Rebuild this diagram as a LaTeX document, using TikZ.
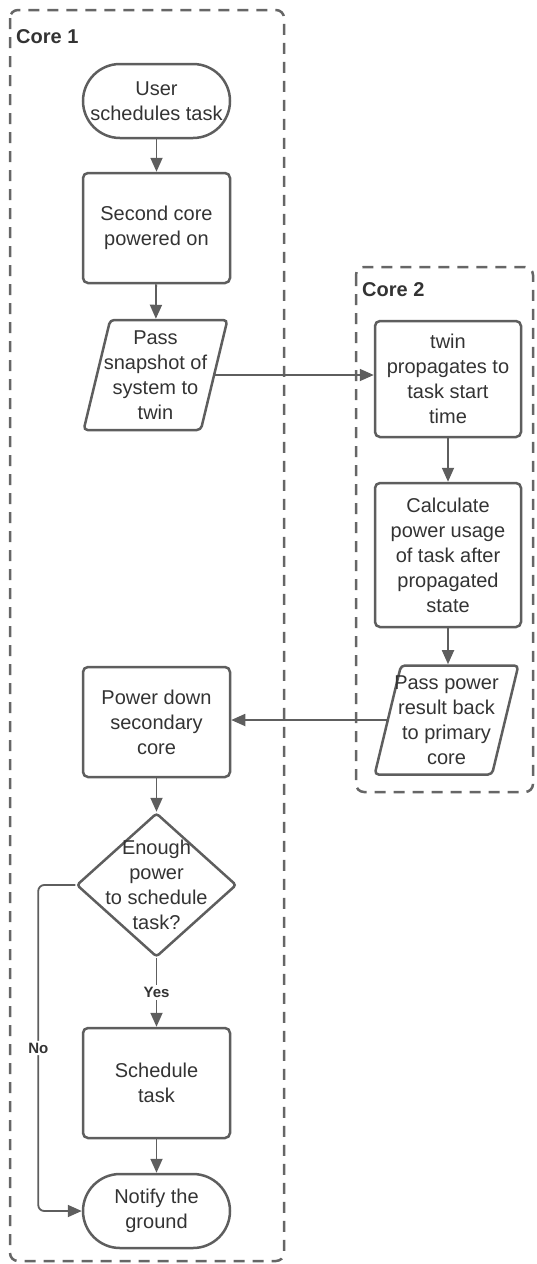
\documentclass[tikz,border=0pt]{standalone}
\usepackage{fontspec}
\setmainfont{Liberation Sans}
\usetikzlibrary{shapes.geometric, arrows.meta}
\definecolor{LCline}{HTML}{5E5E5E}
\definecolor{LCtext}{HTML}{333333}
\definecolor{LCdash}{HTML}{666666}
\tikzstyle{startstop} = [rectangle, rounded corners=37pt, minimum width=147pt, minimum height=74pt, text centered, align=center, draw=LCline, line width=2.5pt]
\tikzstyle{process} = [rectangle, rounded corners=5pt, minimum width=147pt, text centered, align=center, draw=LCline, line width=2.5pt]
\tikzstyle{io} = [trapezium, trapezium stretches=true, trapezium left angle=75, trapezium right angle=105, minimum width=144pt, minimum height=110pt, inner xsep=-8pt, rounded corners=4pt, text centered, align=center, draw=LCline, line width=2.5pt]
\tikzstyle{decision} = [diamond, minimum width=160pt, minimum height=144pt, rounded corners=3pt, draw=LCline, line width=2.5pt]
\tikzstyle{arrow} = [line width=1.8pt, draw=LCline, -{Triangle[length=14pt,width=12pt]}]
\tikzstyle{core} = [draw=LCdash, line width=2.5pt, dash pattern=on 11pt off 8pt, rounded corners=8pt]
\tikzstyle{corelabel} = [anchor=west, inner sep=0pt, font=\bfseries\fontsize{20pt}{24pt}\selectfont]
\tikzstyle{branch} = [fill=white, inner sep=2pt, font=\bfseries\fontsize{15pt}{18pt}\selectfont]

\begin{document}
\begin{tikzpicture}[x=1pt, y=-1pt, every node/.style={text=LCtext, font=\fontsize{20pt}{25pt}\selectfont}]

\useasboundingbox (0,0) rectangle (536,1264);

% lanes
\draw [core] (10,10) rectangle (284,1261);
\draw [core] (356,267) rectangle (533,792);
\node (core1) [corelabel] at (16,37) {Core 1};
\node (core2) [corelabel] at (362,290) {Core 2};

\node (start) [startstop] at (156.5,101) {User\\schedules task};

\node (pro1) [process, minimum height=110pt] at (156.5,228) {Second core\\powered on};

\node (in1) [io] at (155.5,375) {Pass\\snapshot of\\system to\\twin};

\node (pro2) [process, minimum width=146pt, minimum height=116pt] at (448,379) {twin\\propagates to\\task start\\time};

\node (pro3) [process, minimum width=146pt, minimum height=144pt] at (448,555) {Calculate\\power usage\\of task after\\propagated\\state};

\node (out1) [io, minimum height=109pt] at (446.5,720) {Pass power\\result back\\to primary\\core};

\node (pro4) [process, minimum height=110pt] at (156.5,722) {Power down\\secondary\\core};

\node (dec1) [decision, label={[align=center]center:Enough\\power\\to schedule\\task?}] at (156.5,885) {};

\node (pro5) [process, minimum height=110pt] at (156.5,1083) {Schedule\\task};

\node (stop) [startstop] at (156.5,1211) {Notify the\\ground};

\draw [arrow] (start) -- (pro1);
\draw [arrow] (pro1) -- (in1);
\draw [arrow] (in1.east) -- (in1.east -| pro2.west);
\draw [arrow] (pro2) -- (pro3);
\draw [arrow] (pro3.south) -- (pro3.south |- out1.north);
\draw [arrow] (out1.west) -- (out1.west -| pro4.east);
\draw [arrow] (pro4) -- (dec1);
\draw [arrow] (dec1) -- node [branch] {Yes} (pro5);
\draw [arrow] (pro5) -- (stop);
\draw [arrow, rounded corners=6pt] (dec1.west) -- ++(-37,0) |- node [branch, pos=0.25] {No} (stop.west);

\end{tikzpicture}
\end{document}
